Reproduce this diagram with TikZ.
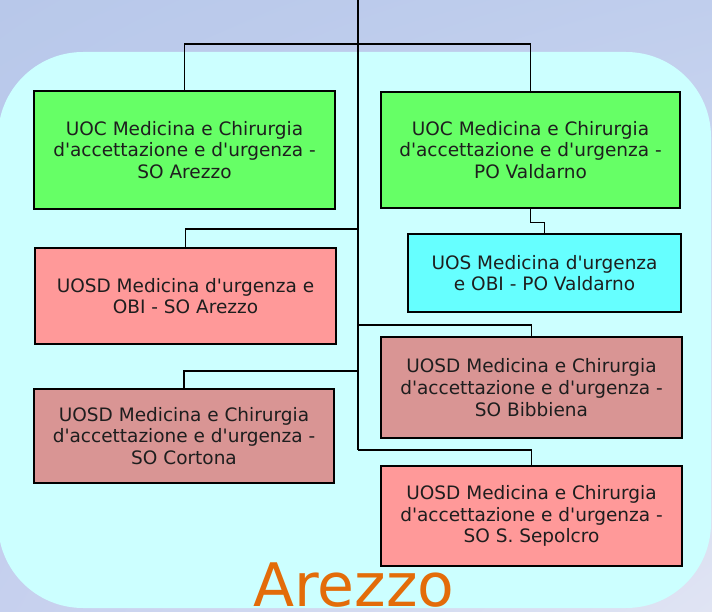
\documentclass[tikz,border=0pt]{standalone}
\usepackage{fontspec}
\usetikzlibrary{shadings}
\setmainfont[Ligatures=TeXOff]{DejaVu Sans}
\definecolor{bgUL}{RGB}{184,200,234}
\definecolor{bgUR}{RGB}{192,206,237}
\definecolor{bgLL}{RGB}{198,208,238}
\definecolor{bgLR}{RGB}{224,228,243}
\definecolor{panel}{RGB}{204,255,255}
\definecolor{cgreen}{RGB}{102,255,102}
\definecolor{ccyan}{RGB}{102,255,255}
\definecolor{cpink}{RGB}{255,153,153}
\definecolor{crose}{RGB}{217,149,148}
\definecolor{corange}{RGB}{227,108,9}
\definecolor{ctext}{RGB}{30,30,30}
\tikzset{
  unitbox/.style={draw=black, line width=1.6pt, align=center, inner sep=0pt,
    text=ctext, font=\fontsize{18.5}{21.7}\selectfont},
  conn/.style={draw=black, line width=1.3pt, line join=miter},
  mainconn/.style={draw=black, line width=2.4pt, line join=miter}
}
\begin{document}
\begin{tikzpicture}[x=1pt,y=-1pt]
\useasboundingbox (0,0) rectangle (712,612);
\shade[upper left=bgUL, upper right=bgUR, lower left=bgLL, lower right=bgLR] (0,0) rectangle (712,612);
\fill[panel, rounded corners=85pt] (-2,52) rectangle (711,608);

\node[unitbox, fill=cgreen, minimum width=301pt, minimum height=118pt] (b1) at (184.5,150)
  {UOC Medicina e Chirurgia\\d'accettazione e d'urgenza -\\SO Arezzo};
\node[unitbox, fill=cgreen, minimum width=299pt, minimum height=116pt] (b2) at (530.5,150)
  {UOC Medicina e Chirurgia\\d'accettazione e d'urgenza -\\PO Valdarno};
\node[unitbox, fill=ccyan, minimum width=273pt, minimum height=78pt] (b3) at (544.5,273)
  {UOS Medicina d'urgenza\\e OBI - PO Valdarno};
\node[unitbox, fill=cpink, minimum width=301pt, minimum height=96pt] (b4) at (185.5,296)
  {UOSD Medicina d'urgenza e\\OBI - SO Arezzo};
\node[unitbox, fill=crose, minimum width=301pt, minimum height=101pt] (b5) at (531.5,387.5)
  {UOSD Medicina e Chirurgia\\d'accettazione e d'urgenza -\\SO Bibbiena};
\node[unitbox, fill=crose, minimum width=300pt, minimum height=94pt] (b6) at (184,436)
  {UOSD Medicina e Chirurgia\\d'accettazione e d'urgenza -\\SO Cortona};
\node[unitbox, fill=cpink, minimum width=301pt, minimum height=100pt] (b7) at (531.5,516)
  {UOSD Medicina e Chirurgia\\d'accettazione e d'urgenza -\\SO S. Sepolcro};

\coordinate (top) at (358,0);
\coordinate (hub) at (358,44);
\coordinate (j4) at (358,229);
\coordinate (j5) at (358,325);
\coordinate (j6) at (358,371);
\coordinate (j7) at (358,450);

\draw[conn] (b1.north) |- (hub) -| (b2.north);
\draw[conn] (b2.south) -- ++(0,13.5) -| (b3.north);
\draw[conn] (j4) -| (b4.north);
\draw[conn] (j5) -| (b5.north);
\draw[conn] (j6) -| (b6.north);
\draw[conn] (j7) -| (b7.north);
\draw[mainconn] (top) -- (j7);

\node[anchor=base, inner sep=0pt, text=corange, font=\fontsize{60}{60}\selectfont] (title) at (354,606) {Arezzo};
\end{tikzpicture}
\end{document}
